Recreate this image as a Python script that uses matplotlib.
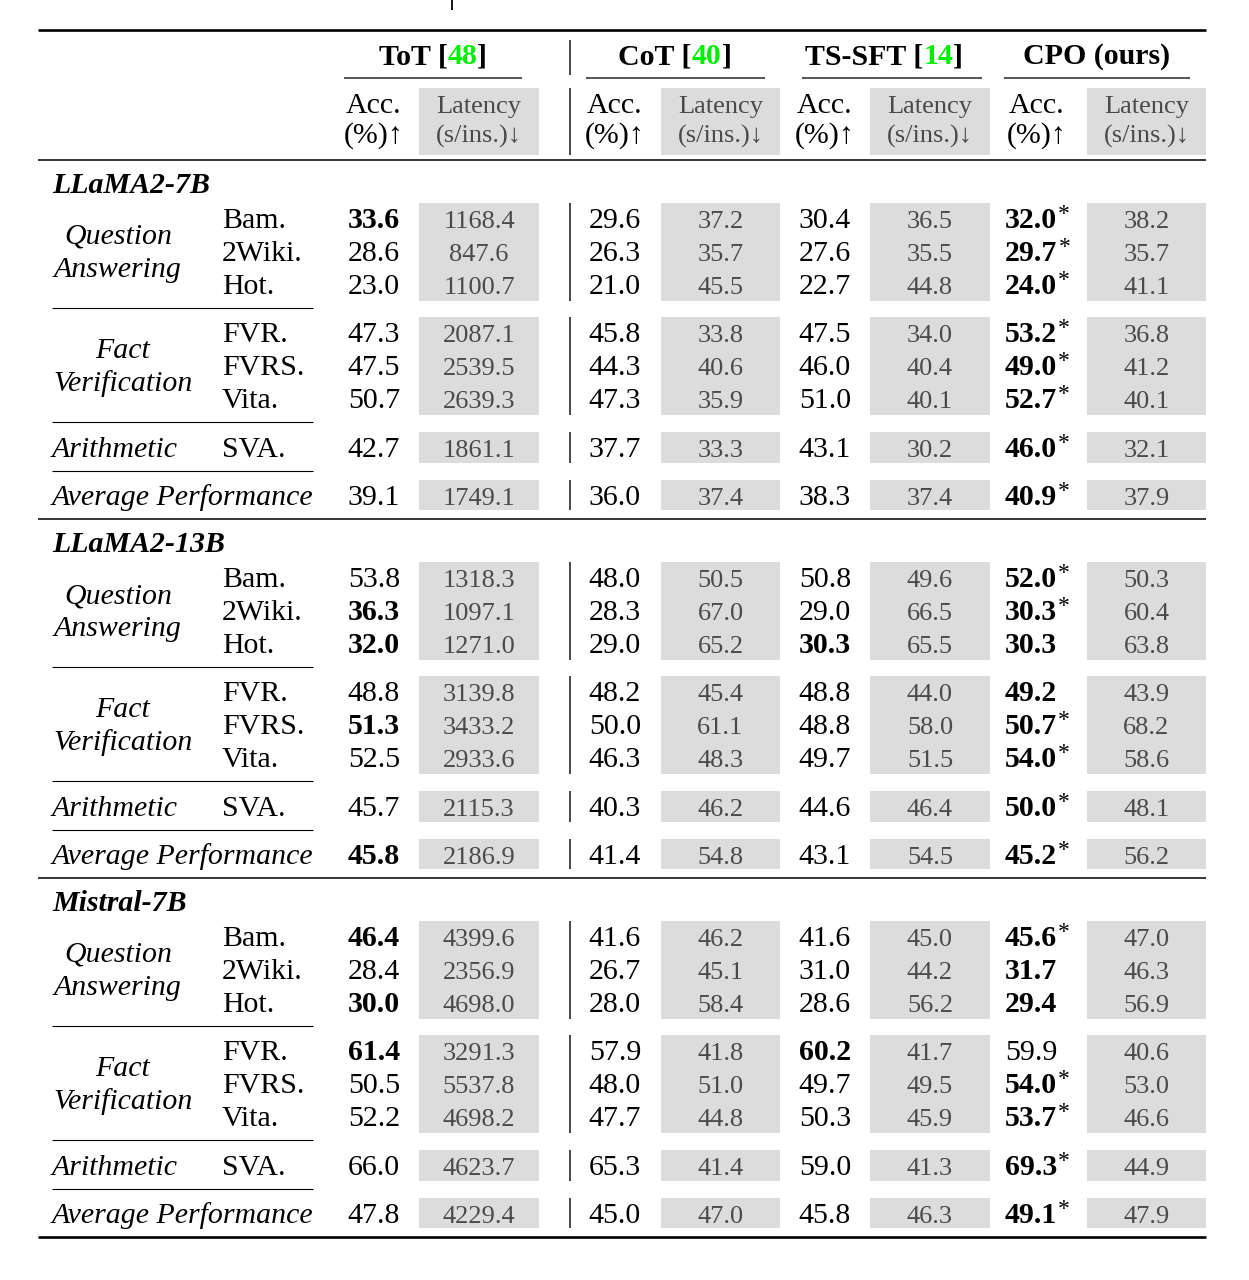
import matplotlib
matplotlib.use('Agg')
import matplotlib.pyplot as plt
from matplotlib.patches import Rectangle

# ---------------- data ----------------
methods = ['ToT', 'CoT', 'TS-SFT', 'CPO (ours)']
citations = ['48', '40', '14', None]
models = ['LLaMA2-7B', 'LLaMA2-13B', 'Mistral-7B']
task_names = [['Question', 'Answering'], ['Fact', 'Verification']]
single_tasks = ['Arithmetic', 'Average Performance']
datasets = ['Bam.', '2Wiki.', 'Hot.', 'FVR.', 'FVRS.', 'Vita.', 'SVA.', '']

# rows: Bam, 2Wiki, Hot, FVR, FVRS, Vita, SVA, Average
llama7_acc = [[33.6, 28.6, 23.0, 47.3, 47.5, 50.7, 42.7, 39.1],
              [29.6, 26.3, 21.0, 45.8, 44.3, 47.3, 37.7, 36.0],
              [30.4, 27.6, 22.7, 47.5, 46.0, 51.0, 43.1, 38.3],
              [32.0, 29.7, 24.0, 53.2, 49.0, 52.7, 46.0, 40.9]]
llama7_lat = [[1168.4, 847.6, 1100.7, 2087.1, 2539.5, 2639.3, 1861.1, 1749.1],
              [37.2, 35.7, 45.5, 33.8, 40.6, 35.9, 33.3, 37.4],
              [36.5, 35.5, 44.8, 34.0, 40.4, 40.1, 30.2, 37.4],
              [38.2, 35.7, 41.1, 36.8, 41.2, 40.1, 32.1, 37.9]]
llama7_bold = [[0], [], [], [0, 1, 2, 3, 4, 5, 6, 7]]
llama7_star = [0, 1, 2, 3, 4, 5, 6, 7]

llama13_acc = [[53.8, 36.3, 32.0, 48.8, 51.3, 52.5, 45.7, 45.8],
               [48.0, 28.3, 29.0, 48.2, 50.0, 46.3, 40.3, 41.4],
               [50.8, 29.0, 30.3, 48.8, 48.8, 49.7, 44.6, 43.1],
               [52.0, 30.3, 30.3, 49.2, 50.7, 54.0, 50.0, 45.2]]
llama13_lat = [[1318.3, 1097.1, 1271.0, 3139.8, 3433.2, 2933.6, 2115.3, 2186.9],
               [50.5, 67.0, 65.2, 45.4, 61.1, 48.3, 46.2, 54.8],
               [49.6, 66.5, 65.5, 44.0, 58.0, 51.5, 46.4, 54.5],
               [50.3, 60.4, 63.8, 43.9, 68.2, 58.6, 48.1, 56.2]]
llama13_bold = [[1, 2, 4, 7], [], [2], [0, 1, 2, 3, 4, 5, 6, 7]]
llama13_star = [0, 1, 4, 5, 6, 7]

mistral_acc = [[46.4, 28.4, 30.0, 61.4, 50.5, 52.2, 66.0, 47.8],
               [41.6, 26.7, 28.0, 57.9, 48.0, 47.7, 65.3, 45.0],
               [41.6, 31.0, 28.6, 60.2, 49.7, 50.3, 59.0, 45.8],
               [45.6, 31.7, 29.4, 59.9, 54.0, 53.7, 69.3, 49.1]]
mistral_lat = [[4399.6, 2356.9, 4698.0, 3291.3, 5537.8, 4698.2, 4623.7, 4229.4],
               [46.2, 45.1, 58.4, 41.8, 51.0, 44.8, 41.4, 47.0],
               [45.0, 44.2, 56.2, 41.7, 49.5, 45.9, 41.3, 46.3],
               [47.0, 46.3, 56.9, 40.6, 53.0, 46.6, 44.9, 47.9]]
mistral_bold = [[0, 2, 3], [], [3], [0, 1, 2, 4, 5, 6, 7]]
mistral_star = [0, 4, 5, 6, 7]

all_acc = [llama7_acc, llama13_acc, mistral_acc]
all_lat = [llama7_lat, llama13_lat, mistral_lat]
all_bold = [llama7_bold, llama13_bold, mistral_bold]
all_star = [llama7_star, llama13_star, mistral_star]

# ---------------- layout ----------------
W, H = 1249, 1280
fig = plt.figure(figsize=(W / 100, H / 100), dpi=100)
ax = fig.add_axes([0, 0, 1, 1])
ax.set_xlim(0, W)
ax.set_ylim(H, 0)
ax.axis('off')
renderer = fig.canvas.get_renderer()

SERIF = ['Liberation Serif', 'DejaVu Serif']
FS = 21.5      # accuracy / label font size
FS_LAT = 19.0  # latency font size
GRAY_BOX = '#dcdcdc'
LAT_COLOR = '#4a4a4a'
GREEN = '#00ee00'

X_LEFT, X_RIGHT = 38, 1206
acc_x = [374, 615, 825, 1005]          # last column left-aligned
lat_box = [(419, 539), (661, 780), (870, 990), (1087, 1206)]
VX = 570


def txt(x, y, s, size=FS, weight='normal', style='normal', color='black', ha='center', va='baseline'):
    return ax.text(x, y, s, fontsize=size, fontweight=weight, fontstyle=style, color=color,
                   ha=ha, va=va, family=SERIF, clip_on=False)


def width(t):
    return t.get_window_extent(renderer=renderer).width


def hline(x0, x1, y, lw, color='black'):
    ax.plot([x0, x1], [y, y], color=color, lw=lw, solid_capstyle='butt')


def vline(x, y0, y1, lw=1.2, color='#2a2a2a'):
    ax.plot([x, x], [y0, y1], color=color, lw=lw, solid_capstyle='butt')


def box(x0, x1, y0, y1):
    ax.add_patch(Rectangle((x0, y0), x1 - x0, y1 - y0, facecolor=GRAY_BOX, edgecolor='none', zorder=0))


# descender of the caption text cut off at the very top edge
ax.plot([452, 452], [0, 10], color='black', lw=1.3, solid_capstyle='butt')

# rules
hline(X_LEFT, X_RIGHT, 30, 1.9)
hline(X_LEFT, X_RIGHT, 160, 1.1)

# header group titles
group_centers = [433, 675, 884, 1097]
cmid = [(344, 522), (586, 765), (802, 982), (1004, 1190)]
for m, cite, cx, (c0, c1) in zip(methods, citations, group_centers, cmid):
    if cite is None:
        txt(cx, 64, m, weight='bold')
    else:
        pieces = [(m + ' [', 'black'), (cite, GREEN), (']', 'black')]
        ts = [txt(0, 64, p, weight='bold', color=c, ha='left') for p, c in pieces]
        ws = [width(t) for t in ts]
        x = cx - sum(ws) / 2
        for t, w in zip(ts, ws):
            t.set_x(x)
            x += w
    hline(c0, c1, 78, 1.4, color='#555555')
vline(VX, 40, 75)

# sub-header
vline(VX, 88, 155)
for i in range(4):
    ax_c = acc_x[i] + 32 if i == 3 else acc_x[i]
    txt(ax_c, 113, 'Acc.')
    txt(ax_c, 143, '(%)\u2191')
    b0, b1 = lat_box[i]
    box(b0, b1, 88, 155)
    txt((b0 + b1) / 2, 113, 'Latency', size=FS_LAT, color=LAT_COLOR)
    txt((b0 + b1) / 2, 143, '(s/ins.)\u2193', size=FS_LAT, color=LAT_COLOR)

# body
row_center_rel = [57, 90, 123, 171, 204, 237, 286, 334]
group_boxes_rel = [(43, 141), (157, 255), (272, 303), (320, 350)]
short_rules_rel = [148, 262, 311]
BLOCK = 359
for b, model in enumerate(models):
    top = 160 + b * BLOCK
    txt(52, top + 33, model, weight='bold', style='italic', ha='left')
    # task labels
    txt(118, top + 84, task_names[0][0], style='italic')
    txt(118, top + 117, task_names[0][1], style='italic')
    txt(123, top + 198, task_names[1][0], style='italic')
    txt(123, top + 231, task_names[1][1], style='italic')
    txt(52, top + 297, single_tasks[0], style='italic', ha='left')
    txt(52, top + 345, single_tasks[1], style='italic', ha='left')
    for r in short_rules_rel:
        hline(52, 313, top + r, 0.8)
    for (g0, g1) in group_boxes_rel:
        vline(VX, top + g0, top + g1)
        for (b0, b1) in lat_box:
            box(b0, b1, top + g0, top + g1)
    for r, rc in enumerate(row_center_rel):
        yb = top + rc + 11
        if datasets[r]:
            txt(222, yb, datasets[r], ha='left')
        for m in range(4):
            v = all_acc[b][m][r]
            bold = r in all_bold[b][m]
            w = 'bold' if bold else 'normal'
            if m == 3:
                t = txt(acc_x[m], yb, f'{v:.1f}', weight=w, ha='left')
                if r in all_star[b]:
                    txt(acc_x[m] + width(t) + 1, yb - 8, '*', size=17, ha='left')
            else:
                txt(acc_x[m], yb, f'{v:.1f}', weight=w)
            b0, b1 = lat_box[m]
            txt((b0 + b1) / 2, yb, f'{all_lat[b][m][r]:.1f}', size=FS_LAT, color=LAT_COLOR)
    bottom = top + BLOCK
    hline(X_LEFT, X_RIGHT, bottom, 1.9 if b == 2 else 1.1)

fig.savefig('out.png', dpi=100, facecolor='white')
